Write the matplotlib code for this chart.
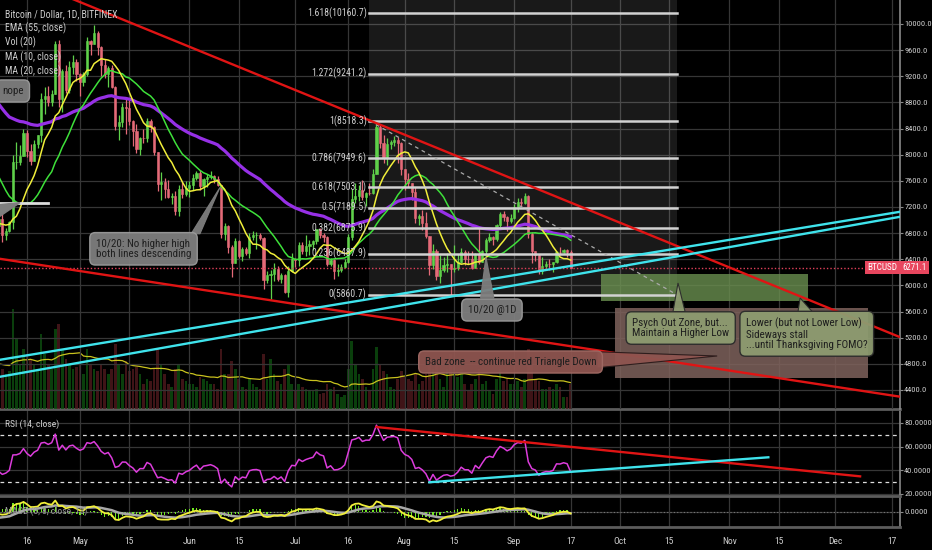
import matplotlib

matplotlib.use("Agg")

import matplotlib.pyplot as plt
import matplotlib.dates as mdates
import matplotlib.transforms as mtransforms
import matplotlib.font_manager as fm
from matplotlib.patches import Polygon, Rectangle
import numpy as np
import pandas as pd


def pick_narrow_font():
    names = {f.name for f in fm.fontManager.ttflist}
    for p in ["Liberation Sans Narrow", "Roboto Condensed", "Open Sans Condensed",
              "Noto Sans Condensed", "DejaVu Sans Condensed"]:
        if p in names:
            return p, "normal", True
    for f in fm.fontManager.ttflist:
        if (f.stretch in ("condensed", "semi-condensed") and f.style == "normal"
                and f.weight in (400, "normal", "regular")
                and "Mono" not in f.name and "Serif" not in f.name):
            return f.name, f.stretch, True
    return "Liberation Sans", "normal", False


font_name, font_stretch, narrow = pick_narrow_font()
plt.rcParams["font.family"] = [font_name, "Liberation Sans", "DejaVu Sans"]
plt.rcParams["font.stretch"] = font_stretch
K = 1.0 if narrow else 0.85  # shrink texts if only a wide font is found

# daily closes before the visible window, only used to warm up the averages
warmup_start = "2018-01-01"
warmup_close = [
    13657, 14982, 15201, 15600, 17175, 17320, 16178,
    14973, 14595, 14973, 13406, 13981, 14360, 13773,
    13819, 11491, 11189, 11475, 11607, 12899, 11601,
    10931, 10868, 11360, 11259, 11171, 11441, 11787,
    11296, 10107, 10221, 9171, 8830, 9174, 8277,
    6955, 7754, 7621, 8265, 8737, 8621, 8129,
    8926, 8598, 9494, 10166, 10233, 11112, 10551,
    11225, 11403, 10690, 10005, 10301, 9813, 9664,
    10366, 10725, 10397, 10951, 11086, 11489, 11512,
    11573, 10779, 9965, 9395, 9337, 8866, 9578,
    9205, 9194, 8269, 8300, 8338, 7916, 8223,
    8630, 8913, 8929, 8728, 8879, 8668, 8495,
    8209, 7833, 7954, 7165, 6891, 6973, 6845,
    7083, 7456, 6854, 6811, 6636, 6911,
]
warmup_volume = [
    50, 55, 50, 52, 60, 55, 50,
    58, 52, 55, 60, 52, 48, 45,
    50, 70, 65, 60, 52, 55, 50,
    58, 52, 50, 45, 40, 42, 45,
    48, 55, 52, 65, 60, 52, 58,
    75, 70, 55, 50, 52, 45, 48,
    55, 45, 60, 65, 50, 60, 55,
    50, 55, 60, 55, 45, 40, 38,
    45, 40, 38, 42, 40, 38, 30,
    40, 55, 60, 58, 62, 50, 55,
    50, 45, 65, 52, 45, 55, 60,
    60, 55, 48, 45, 42, 38, 35,
    45, 55, 40, 65, 60, 50, 45,
    42, 50, 48, 40, 38, 35,
]

# BTCUSD 1D, Bitfinex, 2018-04-08 .. 2018-09-17
start = "2018-04-08"
close = [
    7023, 6770, 6834, 6968, 7889, 7895, 7986, 8329,
    8058, 7902, 8163, 8294, 8845, 8895, 8802, 8930,
    9697, 8845, 9281, 8988, 9348, 9419, 9240,
    9119, 9235, 9743, 9700, 9858, 9654, 9373,
    9234, 9325, 9043, 8441, 8504, 8723, 8716,
    8510, 8368, 8094, 8250, 8248, 8513, 8419,
    8041, 7557, 7587, 7480, 7355, 7368, 7136,
    7472, 7406, 7494, 7541, 7643, 7721, 7514,
    7633, 7653, 7678, 7624, 7531, 6786, 6906,
    6582, 6349, 6675, 6456, 6550, 6499, 6734,
    6769, 6776, 6729, 6084, 6162, 6173, 6249,
    6094, 6157, 5903, 6218, 6404, 6385, 6614,
    6529, 6597, 6639, 6673, 6857, 6773, 6741,
    6329, 6394, 6228, 6238, 6276, 6359, 6741,
    7321, 7370, 7466, 7354, 7419, 7418, 7711,
    8424, 8181, 7951, 8165, 8192, 8218, 8180,
    7780, 7624, 7567, 7434, 7032, 7068, 6951,
    6753, 6306, 6529, 6144, 6232, 6310, 6330,
    6246, 6271, 6361, 6511, 6403, 6401, 6260,
    6476, 6360, 6526, 6690, 6739, 6707, 6922,
    7091, 7047, 6978, 7037, 7193, 7272, 7260,
    7361, 6793, 6529, 6467, 6225, 6300, 6329,
    6321, 6351, 6517, 6512, 6543, 6517, 6271.1,
]
high = [
    7100, 7180, 6880, 6990, 8000, 8200, 8150, 8400,
    8380, 8170, 8230, 8300, 8940, 9030, 9050, 8990,
    9740, 9760, 9310, 9370, 9430, 9520, 9460,
    9250, 9260, 9800, 9760, 9990, 9890, 9660,
    9460, 9350, 9370, 9050, 8600, 8790, 8880,
    8830, 8530, 8470, 8270, 8390, 8560, 8550,
    8440, 8040, 7730, 7640, 7620, 7410, 7440,
    7530, 7580, 7600, 7600, 7700, 7750, 7760,
    7650, 7700, 7750, 7690, 7680, 7540, 6960,
    6920, 6620, 6720, 6690, 6590, 6590, 6800,
    6840, 6810, 6800, 6740, 6220, 6240, 6340,
    6290, 6190, 6170, 6290, 6500, 6420, 6660,
    6670, 6770, 6690, 6700, 6860, 6880, 6800,
    6750, 6420, 6410, 6330, 6320, 6400, 6780,
    7470, 7560, 7540, 7620, 7430, 7570, 7780,
    8518, 8470, 8300, 8260, 8230, 8290, 8270,
    8200, 7780, 7720, 7570, 7500, 7090, 7160,
    7130, 6760, 6630, 6560, 6460, 6440, 6500,
    6330, 6620, 6480, 6580, 6540, 6530, 6520,
    6500, 6880, 6540, 6720, 6800, 6750, 6940,
    7120, 7140, 7060, 7090, 7240, 7340, 7330,
    7410, 7390, 6820, 6530, 6480, 6430, 6370,
    6400, 6360, 6530, 6590, 6560, 6550, 6540,
]
low = [
    6890, 6660, 6700, 6820, 6860, 7780, 7850, 7990,
    7960, 7840, 7900, 8100, 8200, 8620, 8750, 8750,
    8930, 8730, 8650, 8950, 8950, 9230, 9130,
    8900, 9050, 9200, 9520, 9700, 9530, 9210,
    9180, 9030, 9020, 8380, 8220, 8420, 8320,
    8450, 8130, 8020, 7990, 8180, 8200, 8350,
    7990, 7450, 7310, 7340, 7340, 7250, 7080,
    7060, 7330, 7370, 7360, 7460, 7610, 7460,
    7370, 7510, 7630, 7560, 7520, 6730, 6700,
    6500, 6130, 6340, 6420, 6380, 6470, 6420,
    6700, 6560, 6700, 5950, 6040, 5790, 6070,
    6070, 6040, 5880, 5830, 6200, 6280, 6300,
    6480, 6450, 6460, 6540, 6630, 6720, 6660,
    6300, 6300, 6100, 6150, 6200, 6270, 6340,
    6700, 7260, 7290, 7300, 7220, 7380, 7400,
    7700, 8100, 7880, 7850, 8080, 8130, 7880,
    7690, 7460, 7500, 7300, 6950, 6920, 6850,
    6720, 6160, 6250, 6080, 6030, 6200, 6200,
    5860, 6210, 6240, 6340, 6310, 6320, 6250,
    6260, 6320, 6360, 6470, 6670, 6620, 6680,
    6890, 6990, 6840, 6950, 7020, 7120, 7200,
    7240, 6720, 6350, 6380, 6170, 6180, 6260,
    6230, 6210, 6350, 6460, 6500, 6440, 6260,
]
volume = [
    30, 40, 35, 38, 100, 70, 45, 60,
    55, 50, 45, 40, 75, 55, 45, 40,
    80, 85, 60, 50, 45, 40, 42,
    45, 35, 60, 45, 40, 38, 45,
    40, 35, 40, 65, 45, 35, 48,
    38, 40, 42, 35, 25, 30, 28,
    40, 60, 45, 35, 25, 22, 40,
    45, 30, 28, 25, 25, 22, 32,
    30, 28, 25, 25, 20, 60, 35,
    35, 48, 40, 30, 22, 20, 30,
    25, 22, 20, 55, 30, 50, 35,
    28, 25, 40, 45, 25, 18, 25,
    22, 20, 18, 18, 20, 15, 16,
    25, 20, 22, 15, 12, 14, 40,
    68, 45, 35, 30, 22, 18, 40,
    62, 45, 38, 35, 22, 20, 30,
    38, 32, 30, 28, 35, 25, 28,
    35, 50, 40, 48, 30, 22, 40,
    55, 45, 32, 40, 25, 18, 25,
    30, 40, 25, 28, 18, 15, 30,
    40, 28, 30, 25, 25, 28, 22,
    30, 60, 45, 30, 28, 20, 20,
    22, 20, 25, 22, 12, 12, 25,
]
last_price = 6271.1

# drawings on the chart (date, price)
upper_red = [("2018-04-16", 10667), ("2018-12-19", 5215)]
lower_red = [("2018-04-08", 6410), ("2018-12-19", 4300)]
cyan_upper = [("2018-04-08", 4859), ("2018-12-19", 7124)]
cyan_lower = [("2018-04-08", 4599), ("2018-12-19", 7047)]
old_level = [("2018-04-06", 7261), ("2018-04-22", 7261)]
fib_high = ("2018-07-22", 8518.3)
fib_low = ("2018-10-17", 5860.7)
fib_ratios = ["0", "0.236", "0.382", "0.5", "0.618", "0.786", "1", "1.272", "1.618"]
fib_prices = [5860.7, 6487.9, 6875.9, 7189.5, 7503.1, 7949.6, 8518.3, 9241.2, 10160.7]
green_zone = ("2018-09-25 14:00", "2018-11-23 05:00", 5762, 6175)
brown_zone = ("2018-09-29 14:00", "2018-12-10 05:00", 4583, 5654)
rsi_red = [("2018-07-24", 76.6), ("2018-12-08", 34.9)]
rsi_cyan = [("2018-08-08", 29.9), ("2018-11-12", 51.0)]

tick_dates = ["2018-04-16", "2018-05-01", "2018-05-15", "2018-06-01", "2018-06-15",
              "2018-07-01", "2018-07-16", "2018-08-01", "2018-08-15", "2018-09-01",
              "2018-09-17", "2018-10-01", "2018-10-15", "2018-11-01", "2018-11-15",
              "2018-12-01", "2018-12-17"]
tick_labels = ["16", "May", "15", "Jun", "15", "Jul", "16", "Aug", "15", "Sep",
               "17", "Oct", "15", "Nov", "15", "Dec", "17"]


def dn(s):
    return mdates.date2num(pd.Timestamp(s))


# ---- indicators over the full history ----
all_close = pd.Series(warmup_close + close, dtype=float,
                      index=pd.date_range(warmup_start, periods=len(warmup_close) + len(close)))
all_vol = pd.Series(warmup_volume + volume, dtype=float, index=all_close.index)
ema55 = all_close.ewm(span=55, adjust=False).mean()
ma10 = all_close.rolling(10).mean()
ma20 = all_close.rolling(20).mean()
vol_ma = all_vol.rolling(20).mean()

delta = all_close.diff()
gain = delta.clip(lower=0).ewm(alpha=1 / 14, adjust=False).mean()
loss = (-delta.clip(upper=0)).ewm(alpha=1 / 14, adjust=False).mean()
rsi = 100 - 100 / (1 + gain / loss)

macd = all_close.ewm(span=3, adjust=False).mean() - all_close.ewm(span=8, adjust=False).mean()
signal = macd.ewm(span=13, adjust=False).mean()
hist = macd - signal

vis = all_close.index >= pd.Timestamp(start)
dates = all_close.index[vis]
x = mdates.date2num(dates)
c = np.array(close, dtype=float)
o = all_close.shift(1)[vis].values
h = np.maximum(np.array(high, dtype=float), np.maximum(o, c))
l = np.minimum(np.array(low, dtype=float), np.minimum(o, c))
up = c >= o

GREEN = "#5fd14a"
RED = "#e46a78"
BG = "black"
GRID = "#363636"
TXT = "#cfcfcf"

fig = plt.figure(figsize=(9.32, 5.5), dpi=100, facecolor=BG)
W = 900 / 932
ax = fig.add_axes([0, 1 - 409 / 550, W, 409 / 550])
ax_rsi = fig.add_axes([0, 1 - 496 / 550, W, 87 / 550], sharex=ax)
ax_macd = fig.add_axes([0, 1 - 527 / 550, W, 31 / 550], sharex=ax)

ax_vol = ax.twinx()
ax_vol.set_zorder(0)
ax.set_zorder(1)
ax.patch.set_visible(False)
ax_vol.set_facecolor(BG)

x0 = dn("2018-04-16")
ax.set_ylim(4109, 10367)

# volume
vcol = np.where(up, "#0d4f10", "#4f1a1e")
ax_vol.bar(x, volume, width=0.75, color=vcol, alpha=0.8)
ax_vol.plot(x, vol_ma[vis].values, color="#c9c21e", lw=0.9)
ax_vol.set_ylim(0, max(volume) * 4.1)
ax_vol.set_yticks([])
for s in ax_vol.spines.values():
    s.set_visible(False)

# fib shading
fx1, fx2 = dn(fib_high[0]), dn(fib_low[0])
ax.add_patch(Rectangle((fx1, fib_low[1]), fx2 - fx1, 11000 - fib_low[1],
                       facecolor="white", alpha=0.1, lw=0, zorder=1))

# zones
for z, fc, a in [(green_zone, "#6a8f4f", 0.8), (brown_zone, "#7f625c", 0.85)]:
    zx1, zx2 = dn(z[0]), dn(z[1])
    ax.add_patch(Rectangle((zx1, z[2]), zx2 - zx1, z[3] - z[2], facecolor=fc,
                           alpha=a, lw=0, zorder=2))

# candles
cols = np.where(up, GREEN, RED)
ax.vlines(x, l, h, colors=cols, lw=0.9, zorder=3)
ax.bar(x, np.abs(c - o), bottom=np.minimum(o, c), width=0.62, color=cols,
       edgecolor=cols, linewidth=0.4, zorder=3)

# moving averages
ax.plot(x, ema55[vis].values, color="#9630e6", lw=2.3, zorder=4)
ax.plot(x, ma20[vis].values, color="#3ee03a", lw=1.1, zorder=4)
ax.plot(x, ma10[vis].values, color="#f0ee3a", lw=1.1, zorder=4)

# fib levels
for lev, lab in zip(fib_prices, fib_ratios):
    ax.plot([fx1, fx2], [lev, lev], color="#d2d2d2", lw=1.8, zorder=5)
    ax.text(fx1 - 0.8, lev, f"{lab}({lev:.1f})", color=TXT, fontsize=7 * K,
            ha="right", va="center", zorder=6)
ax.plot([fx1, fx2], [fib_high[1], fib_low[1]], color="#aaaaaa", lw=0.9,
        ls=(0, (3, 3)), zorder=5)

# trend lines
for seg, col in [(upper_red, "#e01414"), (lower_red, "#e01414"),
                 (cyan_upper, "#3fe3ec"), (cyan_lower, "#3fe3ec")]:
    ax.plot([dn(seg[0][0]), dn(seg[1][0])], [seg[0][1], seg[1][1]], color=col,
            lw=1.7, zorder=5)
ax.plot([dn(old_level[0][0]), dn(old_level[1][0])], [old_level[0][1], old_level[1][1]],
        color="#dddddd", lw=2, zorder=5)
ax.axhline(last_price, color="#e0405a", lw=1, ls=(0, (1, 1.5)), zorder=4)


# callouts
def callout(tx, ty, text, fc, ec, ha="left", pointer=None, pec=None):
    if pointer is not None:
        pts = [(dn(d), p) for d, p in pointer]
        ax.add_patch(Polygon(pts, closed=True, facecolor=fc, edgecolor=pec or fc,
                             lw=0.8, zorder=6, alpha=0.95))
    ax.text(dn(tx), ty, text, fontsize=7.9 * K, color="#1e1e1e", ha=ha, va="center",
            linespacing=1.05, zorder=7,
            bbox=dict(boxstyle="round,pad=0.55,rounding_size=0.5", fc=fc, ec=ec,
                      lw=1, alpha=0.95))


GREY = "#7e7e7e"
OLIVE = "#8d9b70"
callout("2018-04-15", 8975, "nope", GREY, "#9a9a9a", ha="right")
ax.add_patch(Polygon([(dn("2018-04-07"), 7230), (dn("2018-04-07"), 7010),
                      (dn("2018-04-14"), 7266)], closed=True, facecolor=GREY,
                     edgecolor=GREY, zorder=6))
callout("2018-05-05 12:00", 6560, "10/20: No higher high\nboth lines descending", GREY,
        "#9a9a9a", pointer=[("2018-06-01 12:00", 6790), ("2018-06-04", 6790),
                            ("2018-06-09 16:00", 7500)])
callout("2018-08-25 17:00", 5624, "10/20 @1D", GREY, "#9a9a9a", ha="center",
        pointer=[("2018-08-22 12:00", 5810), ("2018-08-26 06:00", 5810),
                 ("2018-08-24", 6435)])
callout("2018-08-06 16:00", 4828, "Bad zone  -- continue red Triangle Down", "#8e5550",
        "#a06a64", pointer=[("2018-09-24 12:00", 4985), ("2018-09-24 12:00", 4740),
                            ("2018-10-28 12:00", 4920)], pec="#2a1a1a")
callout("2018-10-04 10:00", 5348, "Psych Out Zone, but...\nMaintain a Higher Low", OLIVE,
        "#2a2a2a", pointer=[("2018-10-16", 5600), ("2018-10-19 10:00", 5600),
                            ("2018-10-17 10:00", 6037)], pec="#2a2a2a")
callout("2018-11-05 16:00", 5256,
        "Lower (but not Lower Low)\nSideways stall\n...until Thanksgiving FOMO?", OLIVE,
        "#2a2a2a", pointer=[("2018-11-20 10:00", 5600), ("2018-11-24 10:00", 5600),
                            ("2018-11-21", 5807)], pec="#2a2a2a")

# price label on the axis
trans = mtransforms.blended_transform_factory(ax.transAxes, ax.transData)
ax.text(0.997, last_price, "BTCUSD", transform=trans, ha="right", va="center",
        fontsize=6.6 * K, color="white", zorder=8,
        bbox=dict(boxstyle="square,pad=0.25", fc="#e8465e", ec="none"))
ax.text(1.003, last_price, "6271.1", transform=trans, ha="left", va="center",
        fontsize=6.4 * K, color="white", zorder=8, clip_on=False,
        bbox=dict(boxstyle="square,pad=0.25", fc="#e8465e", ec="none"))

# RSI panel
ax_rsi.plot(x, rsi[vis].values, color="#dc3cdc", lw=1.1, zorder=4)
for lv in (70, 30):
    ax_rsi.axhline(lv, color="#dddddd", lw=0.9, ls=(0, (3, 3)))
for seg, col in [(rsi_red, "#e01414"), (rsi_cyan, "#3fe3ec")]:
    ax_rsi.plot([dn(seg[0][0]), dn(seg[1][0])], [seg[0][1], seg[1][1]], color=col,
                lw=1.7, zorder=5)
ax_rsi.set_ylim(18.3, 91.8)
ax_rsi.set_yticks([20, 40, 60, 80])
ax_rsi.set_yticklabels([f"{v:.4f}" for v in (20, 40, 60, 80)])

# MACD panel
hv = hist[vis].values
ax_macd.bar(x, hv, width=0.35, color="#6ee81e", zorder=3)
ax_macd.plot(x, signal[vis].values, color="#a8a8a8", lw=1.8, zorder=4)
ax_macd.plot(x, macd[vis].values, color="#f0ee3a", lw=1.3, zorder=5)
ax_macd.axhline(0, color="#777777", lw=0.8, ls=(0, (1, 2)))
m = np.nanmax(np.abs(np.concatenate([macd[vis].values, signal[vis].values]))) / 11.5
ax_macd.set_ylim(-15 * m, 16 * m)
ax_macd.set_yticks([0])
ax_macd.set_yticklabels(["0.0000"])

# shared styling
tick_fs = 6.0 if narrow else 5.4
for a in (ax, ax_rsi, ax_macd):
    a.set_facecolor(BG)
    a.yaxis.tick_right()
    a.tick_params(axis="y", colors="#8a8a8a", labelcolor=TXT, labelsize=tick_fs,
                  length=2, pad=1)
    a.set_xticks([dn(d) for d in tick_dates])
    a.grid(True, color=GRID, lw=0.9)
    a.set_axisbelow(True)
    for s in ("left", "top", "bottom"):
        a.spines[s].set_visible(False)
    a.spines["right"].set_color("#8a8a8a")
    a.spines["right"].set_linewidth(1.2)

ax.set_yticks(np.arange(4400, 10001, 400))
ax.set_yticklabels([f"{v:.1f}" for v in np.arange(4400, 10001, 400)])
ax.tick_params(axis="x", labelbottom=False, length=0)
ax_rsi.tick_params(axis="x", labelbottom=False, length=0)
for a in (ax_rsi, ax_macd):
    a.spines["top"].set_visible(True)
    a.spines["top"].set_color("#5c5c5c")
    a.spines["top"].set_linewidth(2)
ax_macd.spines["bottom"].set_visible(True)
ax_macd.spines["bottom"].set_color("#5c5c5c")
ax_macd.spines["bottom"].set_linewidth(2)
ax_macd.set_xticklabels(tick_labels)
ax_macd.tick_params(axis="x", colors=TXT, labelsize=6.8 * K, length=0, pad=7)
ax.set_xlim(x0 - 7.65, x0 + 247.3)

# legend texts
legend_lines = ["Bitcoin / Dollar, 1D, BITFINEX", "EMA (55, close)", "Vol (20)",
                "MA (10, close)", "MA (20, close)"]
for i, t in enumerate(legend_lines):
    fig.text(5 / 932, 1 - (14 + 14.3 * i) / 550, t, color=TXT, fontsize=7 * K,
             va="center", zorder=10)
fig.text(5 / 932, 1 - 424 / 550, "RSI (14, close)", color=TXT, fontsize=6.8 * K,
         va="center")
fig.text(5 / 932, 1 - 511 / 550, "MACD (3, 8, close, 13)", color="#9a9a9a",
         fontsize=6.8 * K, va="center")

fig.savefig("out.png", dpi=100, facecolor=BG)
plt.close(fig)
